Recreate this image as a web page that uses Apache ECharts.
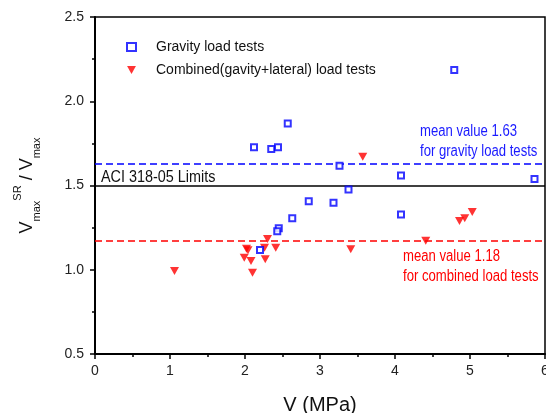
<!DOCTYPE html>
<html><head><meta charset="utf-8">
<script src="https://cdn.jsdelivr.net/npm/echarts@6/dist/echarts.min.js"></script>
<style>html,body{margin:0;padding:0;background:#fff}#c{width:546px;height:413px}</style>
</head><body><div id="c"></div>
<script>
// ---- data ----
const gravityV     = [2.12, 2.35, 2.44, 2.57, 3.26, 4.08, 4.79, 5.86, 3.38, 2.85, 3.18, 2.63, 2.45, 2.43, 4.08, 2.20];
const gravityRatio = [1.727, 1.717, 1.727, 1.868, 1.617, 1.559, 2.186, 1.538, 1.476, 1.407, 1.397, 1.306, 1.247, 1.229, 1.328, 1.117];
const combinedV     = [1.06, 2.02, 2.04, 1.99, 2.08, 2.10, 2.26, 2.30, 2.27, 2.41, 3.57, 3.41, 4.41, 4.86, 4.93, 5.03];
const combinedRatio = [0.992, 1.125, 1.115, 1.071, 1.052, 0.982, 1.131, 1.182, 1.062, 1.131, 1.670, 1.122, 1.172, 1.290, 1.306, 1.342];
const xTicks = [0, 1, 2, 3, 4, 5, 6];
const yTicks = [0.5, 1.0, 1.5, 2.0, 2.5];
const aciLimit = 1.5;
const meanGravityLine = 1.63;
const meanCombinedLine = 1.165;
const seriesNames = ['Gravity load tests', 'Combined(gavity+lateral) load tests'];
const aciText = 'ACI 318-05 Limits';
const gravityNote = ['mean value 1.63', 'for gravity load tests'];
const combinedNote = ['mean value 1.18', 'for combined load tests'];

const sans = "'Liberation Sans',Arial,sans-serif";
const toPairs = (xs, ys) => xs.map((x, i) => [x, ys[i]]);

const chart = echarts.init(document.getElementById('c'), null, {renderer: 'canvas'});
chart.setOption({
  backgroundColor: '#fff',
  animation: false,
  grid: {left: 95, right: 1, top: 17, bottom: 59, outerBoundsMode: 'none', containLabel: false,
         show: true, borderColor: '#000', borderWidth: 1.5, backgroundColor: 'transparent'},
  legend: {
    orient: 'vertical', left: 121, top: 35, itemWidth: 9, itemHeight: 8, itemGap: 9,
    data: seriesNames,
    textStyle: {fontFamily: sans, fontSize: 14, color: '#111', padding: [0, 0, 0, 15]}
  },
  xAxis: {
    type: 'value', min: xTicks[0], max: xTicks[xTicks.length - 1], interval: 1,
    name: 'V (MPa)', nameLocation: 'middle', nameGap: 41,
    nameTextStyle: {fontFamily: sans, fontSize: 20, color: '#111'},
    axisLine: {lineStyle: {color: '#000', width: 2}},
    axisTick: {inside: false, length: 5, lineStyle: {color: '#000', width: 1.5}},
    minorTick: {show: true, splitNumber: 2, length: 3, lineStyle: {color: '#000', width: 1.5}},
    axisLabel: {fontFamily: sans, fontSize: 14, color: '#222', margin: 10},
    splitLine: {show: false}
  },
  yAxis: {
    type: 'value', min: yTicks[0], max: yTicks[yTicks.length - 1], interval: 0.5,
    name: '{v|V}{sub|max}{sup|SR}{v| / V}{sub|max}', nameLocation: 'middle', nameGap: 53,
    nameTextStyle: {
      fontFamily: sans, color: '#111',
      rich: {
        v: {fontFamily: sans, fontSize: 18, lineHeight: 30, verticalAlign: 'middle', color: '#111'},
        sub: {fontFamily: sans, fontSize: 11, lineHeight: 12, verticalAlign: 'bottom', color: '#111'},
        sup: {fontFamily: sans, fontSize: 11, lineHeight: 12, verticalAlign: 'top', color: '#111'}
      }
    },
    axisLine: {lineStyle: {color: '#000', width: 2}},
    axisTick: {inside: false, length: 5, lineStyle: {color: '#000', width: 1.5}},
    minorTick: {show: true, splitNumber: 2, length: 3, lineStyle: {color: '#000', width: 1.5}},
    axisLabel: {fontFamily: sans, fontSize: 14, color: '#222', margin: 11, formatter: v => v.toFixed(1)},
    splitLine: {show: false}
  },
  series: [
    {
      name: seriesNames[0], type: 'scatter', symbol: 'emptyRect', symbolSize: 6,
      itemStyle: {color: '#0000ff', borderColor: '#0000ff', borderWidth: 1.5},
      data: toPairs(gravityV, gravityRatio), z: 5,
      markLine: {
        silent: true, symbol: 'none', label: {show: false},
        data: [
          {yAxis: aciLimit, lineStyle: {color: '#000', width: 1.5, type: 'solid'}},
          {yAxis: meanGravityLine, lineStyle: {color: '#0000ff', width: 1.5, type: [7, 4]}}
        ]
      }
    },
    {
      name: seriesNames[1], type: 'scatter', symbol: 'path://M0,0L10,0L5,9Z', symbolSize: [9, 8],
      itemStyle: {color: '#ff0000'},
      data: toPairs(combinedV, combinedRatio), z: 4,
      markLine: {
        silent: true, symbol: 'none', label: {show: false},
        data: [
          {yAxis: meanCombinedLine, lineStyle: {color: '#ff0000', width: 1.5, type: [7, 4]}}
        ]
      }
    }
  ],
  graphic: [
    {type: 'text', x: 101, y: 170, scaleX: 0.9, style: {text: aciText, font: '16px ' + sans, fill: '#111'}},
    {type: 'text', x: 420, y: 122, scaleX: 0.82, style: {text: gravityNote.join('\n'), font: '16px ' + sans, fill: '#1a1aff', lineHeight: 20}},
    {type: 'text', x: 403, y: 247, scaleX: 0.82, style: {text: combinedNote.join('\n'), font: '16px ' + sans, fill: '#ff0000', lineHeight: 20}}
  ]
});
</script>
</body></html>
